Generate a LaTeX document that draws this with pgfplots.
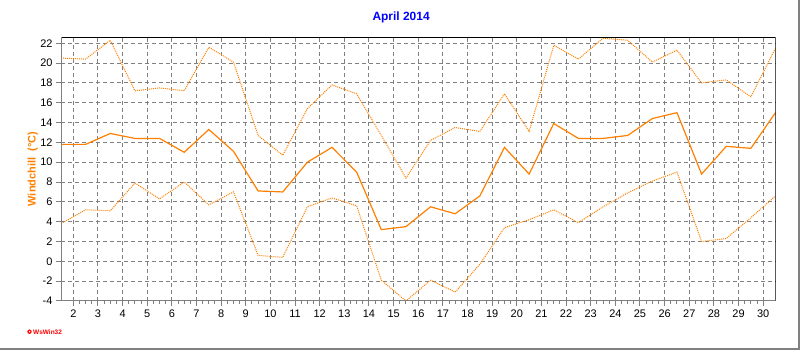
\documentclass[border=0pt]{standalone}
\usepackage{fontspec}
\setmainfont{Liberation Sans}
\usepackage{pgfplots}
\pgfplotsset{compat=1.18}
\definecolor{wsorange}{RGB}{255,128,0}
\definecolor{wsgrid}{RGB}{128,128,128}
\definecolor{wsblue}{RGB}{0,0,255}
\begin{document}
\begin{tikzpicture}
\useasboundingbox (0,0) rectangle (800bp,350bp);
\begin{axis}[
  at={(61bp,49bp)}, anchor=south west,
  scale only axis, width=714.5bp, height=263.7bp,
  xmin=1.5, xmax=30.5, ymin=-4, ymax=22.6,
  xtick={2,...,30}, ytick={-4,-2,...,22},
  minor x tick num=3,
  xtick pos=bottom, ytick pos=left,
  tick align=outside,
  major tick length=5bp, minor tick length=3bp,
  tick style={color=wsgrid, line width=1bp},
  grid=major,
  major grid style={color=wsgrid, line width=1bp, dash pattern=on 4bp off 3bp},
  axis line style={draw=none},
  ticklabel style={font=\fontsize{11}{13}\selectfont},
  /pgf/number format/assume math mode=true,
  title={April 2014},
  title style={at={(axis description cs:0.476,1)}, anchor=base, yshift=11bp, font=\fontsize{12}{14}\selectfont\bfseries, text=wsblue},
  ylabel={Windchill\ \ (°C)},
  ylabel style={at={(axis description cs:-0.0395,0.5)}, anchor=center, rotate=0, font=\fontsize{11}{13}\selectfont\bfseries, text=wsorange},
]
% max
\addplot[wsorange, line width=1bp, dash pattern=on 1bp off 1bp] coordinates {
(1.5,20.5) (2.5,20.4) (3.5,22.3) (4.5,17.2) (5.5,17.5) (6.5,17.2) (7.5,21.6) (8.5,20.1)
(9.5,12.7) (10.5,10.7) (11.5,15.4) (12.5,17.8) (13.5,16.9) (14.5,12.7) (15.5,8.4)
(16.5,12.2) (17.5,13.5) (18.5,13.1) (19.5,16.9) (20.5,13.1) (21.5,21.8) (22.5,20.4)
(23.5,22.5) (24.5,22.3) (25.5,20.1) (26.5,21.3) (27.5,18.0) (28.5,18.3) (29.5,16.6) (30.5,21.5)
};
% mean
\addplot[wsorange, line width=1.2bp] coordinates {
(1.5,11.8) (2.5,11.8) (3.5,12.9) (4.5,12.4) (5.5,12.4) (6.5,11.0) (7.5,13.3) (8.5,11.1)
(9.5,7.1) (10.5,7.0) (11.5,10.0) (12.5,11.5) (13.5,9.0) (14.5,3.2) (15.5,3.5)
(16.5,5.5) (17.5,4.8) (18.5,6.6) (19.5,11.5) (20.5,8.8) (21.5,13.9) (22.5,12.4)
(23.5,12.4) (24.5,12.7) (25.5,14.4) (26.5,15.0) (27.5,8.8) (28.5,11.6) (29.5,11.4) (30.5,15.0)
};
% min
\addplot[wsorange, line width=1bp, dash pattern=on 1bp off 1bp] coordinates {
(1.5,3.8) (2.5,5.2) (3.5,5.1) (4.5,7.9) (5.5,6.3) (6.5,8.0) (7.5,5.7) (8.5,7.0)
(9.5,0.6) (10.5,0.4) (11.5,5.5) (12.5,6.4) (13.5,5.6) (14.5,-1.9) (15.5,-4.0)
(16.5,-1.9) (17.5,-3.1) (18.5,-0.3) (19.5,3.4) (20.5,4.2) (21.5,5.2) (22.5,3.9)
(23.5,5.5) (24.5,6.9) (25.5,8.1) (26.5,9.0) (27.5,2.0) (28.5,2.3) (29.5,4.4) (30.5,6.6)
};
\draw[black, line width=1.5bp] (rel axis cs:0,1) -- (rel axis cs:1,1) -- (rel axis cs:1,0);
\draw[wsgrid, line width=2.5bp] (rel axis cs:0,1) -- (rel axis cs:0,0) -- (rel axis cs:1,0);
\end{axis}
\fill[red] (29.5bp,18.3bp) circle (2.2bp);
\fill[white] (29.5bp,18.3bp) circle (0.8bp);
\node[anchor=base west, inner sep=0, text=red, font=\fontsize{6.5}{8}\selectfont\bfseries] at (33bp,15.5bp) {WsWin32};
\draw[wsgrid, line width=1.5bp] (799.2bp,350bp) -- (799.2bp,0.8bp) -- (0,0.8bp);
\end{tikzpicture}
\end{document}
